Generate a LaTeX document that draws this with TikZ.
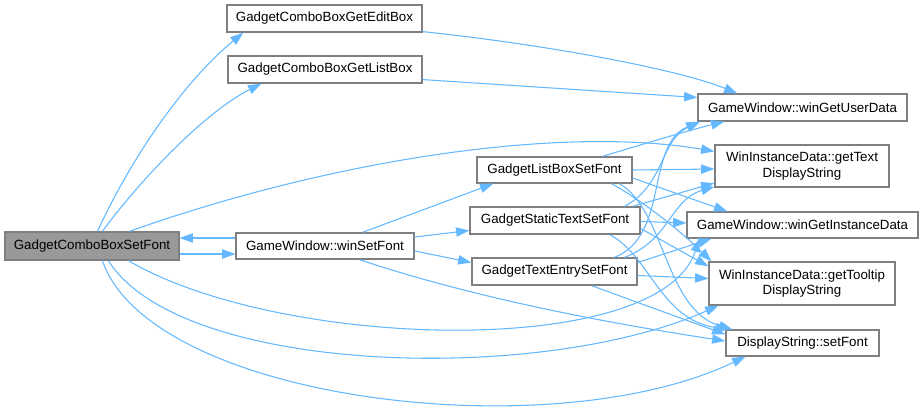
\documentclass[tikz,border=0pt]{standalone}
\usepackage{fontspec}
\setmainfont{Liberation Sans}
\usetikzlibrary{arrows.meta,calc}
\definecolor{edgeblue}{HTML}{63B8FF}
\definecolor{boxgray}{HTML}{7F7F7F}
\definecolor{focusfill}{HTML}{999999}
\begin{document}
\begin{tikzpicture}[x=0.75pt,y=-0.75pt,
  fn/.style={draw=boxgray, line width=0.9pt, fill=white, inner sep=0pt, font=\fontsize{10}{11.5}\selectfont, align=center},
  focus/.style={fn, fill=focusfill},
  call/.style={draw=edgeblue, line width=0.8pt, -{Triangle[length=10pt,width=7pt]}},
]
\useasboundingbox (0,0) rectangle (923,410);
% nodes
\node[focus, minimum width=130.5pt, minimum height=21pt] (csf) at (92,246) {GadgetComboBoxSetFont};
\node[fn, minimum width=146.25pt, minimum height=20.25pt] (geb) at (324.5,18.5) {GadgetComboBoxGetEditBox};
\node[fn, minimum width=145.5pt, minimum height=20.25pt] (glb) at (325,69.5) {GadgetComboBoxGetListBox};
\node[fn, minimum width=133.5pt, minimum height=19.5pt] (wsf) at (325,246) {GameWindow::winSetFont};
\node[fn, minimum width=116.25pt, minimum height=19.5pt] (lbsf) at (554.5,170) {GadgetListBoxSetFont};
\node[fn, minimum width=127.5pt, minimum height=20.25pt] (stsf) at (555,220.5) {GadgetStaticTextSetFont};
\node[fn, minimum width=123.75pt, minimum height=20.25pt] (tesf) at (554.5,271.5) {GadgetTextEntrySetFont};
\node[fn, minimum width=156.75pt, minimum height=20.25pt] (gud) at (802.5,107.5) {GameWindow::winGetUserData};
\node[fn, minimum width=130.5pt, minimum height=31.5pt] (gtd) at (802,166) {WinInstanceData::getText\\DisplayString};
\node[fn, minimum width=173.25pt, minimum height=19.5pt] (gid) at (802.5,225) {GameWindow::winGetInstanceData};
\node[fn, minimum width=139.5pt, minimum height=32.25pt] (ttd) at (802,283.5) {WinInstanceData::getTooltip\\DisplayString};
\node[fn, minimum width=114.75pt, minimum height=19.5pt] (dsf) at (802.5,343) {DisplayString::setFont};
% edges from GadgetComboBoxSetFont
\draw[call] ($(csf.north west)+(93,0)$) .. controls (135,150) and (189,77) .. ($(geb.south west)+(17,0)$);
\draw[call] ($(csf.north west)+(98,0)$) .. controls (140,180) and (205,112) .. ($(glb.south west)+(34,0)$);
\draw[call] ($(csf.north west)+(125,0)$) .. controls (330,160) and (560,125) .. ($(gtd.north west)+(0,7)$);
\draw[call] ($(csf.east)+(0,8)$) -- ($(wsf.west)+(0,8)$);
\draw[call] ($(wsf.west)+(0,-8)$) -- ($(csf.east)+(0,-8)$);
\draw[call] ($(csf.south west)+(124,0)$) .. controls (280,350) and (660,360) .. ($(gid.south west)+(13,0)$);
\draw[call] ($(csf.south west)+(104,0)$) .. controls (180,375) and (540,385) .. ($(ttd.south west)+(10,0)$);
\draw[call] ($(csf.south west)+(98,0)$) .. controls (150,400) and (550,450) .. ($(dsf.south west)+(20,0)$);
% edit / list box
\draw[call] ($(geb.south east)+(0,-1)$) .. controls (550,45) and (680,70) .. ($(gud.north west)+(40,0)$);
\draw[call] ($(glb.south east)+(0,-4)$) -- ($(gud.west)+(0,-10)$);
% winSetFont
\draw[call] ($(wsf.north west)+(127,0)$) -- ($(lbsf.south west)+(17,0)$);
\draw[call] ($(wsf.east)+(0,-9)$) -- ($(stsf.west)+(0,10)$);
\draw[call] ($(wsf.east)+(0,5)$) -- ($(tesf.west)+(0,-9)$);
\draw[call] ($(wsf.south west)+(124,0)$) .. controls (480,300) and (620,325) .. ($(dsf.west)+(0,-2)$);
% GadgetListBoxSetFont
\draw[call] ($(lbsf.north west)+(126,0)$) .. controls (640,145) and (690,130) .. ($(gud.south west)+(27,0)$);
\draw[call] (lbsf.east) -- ($(gtd.west)+(0,3)$);
\draw[call] ($(lbsf.east)+(0,8)$) -- ($(gid.north west)+(41,0)$);
\draw[call] ($(lbsf.south west)+(135,0)$) .. controls (650,205) and (690,240) .. ($(ttd.north west)+(3,0)$);
\draw[call] ($(lbsf.south west)+(143,0)$) .. controls (665,210) and (665,310) .. ($(dsf.north west)+(7,0)$);
% GadgetStaticTextSetFont
\draw[call] ($(stsf.north west)+(155,0)$) .. controls (665,185) and (660,140) .. ($(gud.south west)+(3,0)$);
\draw[call] ($(stsf.north east)+(-8,0)$) -- ($(gtd.west)+(0,17)$);
\draw[call] ($(stsf.east)+(0,1)$) -- ($(gid.west)+(0,-2)$);
\draw[call] ($(stsf.east)+(0,8)$) -- ($(ttd.north west)+(0,5)$);
\draw[call] ($(stsf.south west)+(140,0)$) .. controls (650,255) and (660,320) .. ($(dsf.north west)+(4,0)$);
% GadgetTextEntrySetFont
\draw[call] ($(tesf.north west)+(143,0)$) .. controls (670,235) and (645,145) .. ($(gud.south west)+(2,0)$);
\draw[call] ($(tesf.north west)+(153,0)$) .. controls (670,240) and (670,200) .. ($(gtd.south west)+(0,-1)$);
\draw[call] ($(tesf.east)+(0,-9)$) -- ($(gid.south west)+(25,0)$);
\draw[call] ($(tesf.east)+(0,4)$) -- ($(ttd.west)+(0,-5)$);
\draw[call] ($(tesf.south west)+(120,0)$) -- ($(dsf.north west)+(0,5)$);
\end{tikzpicture}
\end{document}
